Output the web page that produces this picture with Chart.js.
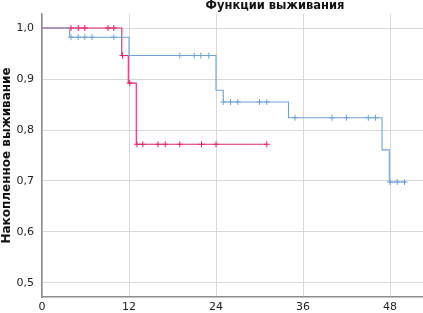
<!DOCTYPE html>
<html>
<head>
<meta charset="utf-8">
<script src="https://cdn.jsdelivr.net/npm/chart.js@4"></script>
<style>
  html, body { margin: 0; padding: 0; background: #fff; }
  #wrap { width: 423px; height: 313px; }
</style>
</head>
<body>
<div id="wrap"><canvas id="km" width="423" height="313"></canvas></div>
<script>
// survival data (months / cumulative survival)
const chartTitle = 'Функции выживания';
const yTitle = 'Накопленное выживание';

const blueTimes = [0, 3.8, 12.0, 24.0, 25.0, 34.0, 46.9, 47.9, 50.2];
const blueSurv = [1.0, 0.982, 0.946, 0.878, 0.855, 0.824, 0.761, 0.698, 0.698];
const blueCensored = [4.0, 5.0, 5.9, 6.9, 9.9, 19.0, 21.0, 21.9, 23.0, 25.0, 26.0, 27.0, 30.0, 31.0,
  34.9, 40.0, 42.0, 45.0, 46.0, 48.0, 49.0, 50.0];

const redTimes = [0, 11.0, 11.9, 13.0, 31.0];
const redSurv = [1.0, 0.946, 0.892, 0.772, 0.772];
const redCensored = [4.0, 5.0, 5.9, 9.1, 9.9, 11.1, 12.1, 13.1, 13.9, 16.0, 17.0, 19.0, 22.0, 24.0, 31.0];

const xTicks = [0, 12, 24, 36, 48];
const yTicks = [0.5, 0.6, 0.7, 0.8, 0.9, 1.0];

const BLUE = '#6ea3d8';
const RED = '#e02862';
const GRID = '#d8d8d8';

// value of the step function at time t
function survAt(times, surv, t){
  let s = surv[0];
  for(let i=0;i<times.length;i++){ if(times[i] <= t) s = surv[i]; }
  return s;
}
function stepPoints(times, surv){
  return times.map((t,i)=>({x:t, y:surv[i]}));
}
function censorPoints(times, surv, cens){
  return cens.map(t=>({x:t, y:survAt(times, surv, t)}));
}

const titlePlugin = {
  id: 'topTitle',
  afterDraw(chart){
    const ctx = chart.ctx;
    ctx.save();
    ctx.font = 'bold 11.5px "DejaVu Sans"';
    ctx.fillStyle = '#111';
    ctx.textAlign = 'center';
    ctx.textBaseline = 'alphabetic';
    ctx.fillText(chartTitle, 275, 9);
    ctx.restore();
  }
};

const lineDs = (data, color) => ({
  type: 'line', data, stepped: 'before', borderColor: color, borderWidth: 1.1,
  pointRadius: 0, fill: false, tension: 0
});
const censDs = (data, color) => ({
  type: 'scatter', data, pointStyle: 'cross', pointRadius: 3, borderColor: color,
  pointBorderWidth: 1, backgroundColor: color, showLine: false
});

new Chart(document.getElementById('km'), {
  type: 'line',
  data: {
    datasets: [
      lineDs(stepPoints(blueTimes, blueSurv), BLUE),
      censDs(censorPoints(blueTimes, blueSurv, blueCensored), BLUE),
      lineDs(stepPoints(redTimes, redSurv), RED),
      censDs(censorPoints(redTimes, redSurv, redCensored), RED)
    ]
  },
  options: {
    responsive: false,
    animation: false,
    layout: { autoPadding: false, padding: { top: 14, left: 0, right: 0, bottom: 0 } },
    plugins: { legend: { display: false }, tooltip: { enabled: false }, title: { display: false } },
    scales: {
      x: {
        type: 'linear', min: 0, max: 52.55,
        afterBuildTicks: s => { s.ticks = xTicks.map(v=>({value:v})); },
        afterFit: s => { s.height = 16; s.paddingLeft = 0; s.paddingRight = 0; },
        grid: { color: GRID, lineWidth: 1, drawTicks: false },
        border: { color: '#8c8c8c', width: 1.5 },
        ticks: { padding: 4, color: '#222', font: { family: 'DejaVu Sans', size: 11 }, maxRotation: 0 }
      },
      y: {
        type: 'linear', min: 0.4725, max: 1.0275,
        afterBuildTicks: s => { s.ticks = yTicks.map(v=>({value:v})); },
        afterFit: s => { s.width = 42; s.paddingTop = 0; s.paddingBottom = 0; },
        grid: { color: GRID, lineWidth: 1, drawTicks: false },
        border: { color: '#8c8c8c', width: 1.5 },
        ticks: { padding: 8, color: '#222', font: { family: 'DejaVu Sans', size: 11 },
          callback: v => v.toFixed(1).replace('.', ',') },
        title: { display: true, text: yTitle, color: '#111', padding: { top: 0, bottom: 0 },
          font: { family: 'DejaVu Sans', size: 12, weight: 'bold' } }
      }
    }
  },
  plugins: [titlePlugin]
});
</script>
</body>
</html>
